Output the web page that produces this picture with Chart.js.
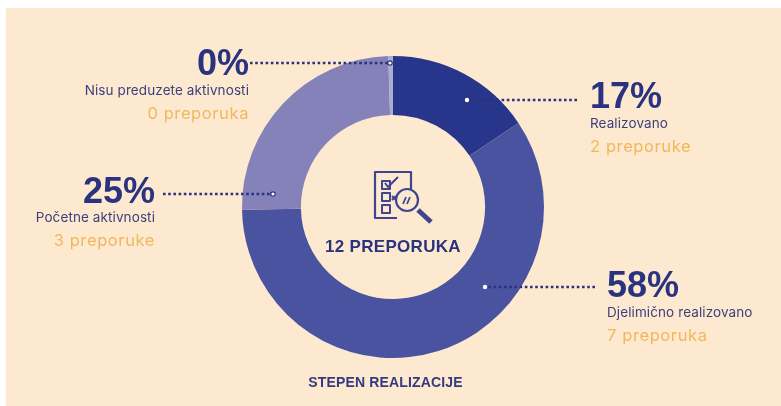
<!DOCTYPE html>
<html><head><meta charset="utf-8">
<style>
html,body{margin:0;padding:0;background:#fff;width:781px;height:406px;overflow:hidden}
#bg{position:absolute;left:6px;top:8px;width:775px;height:398px;background:#fde9cf}
#wrap{position:absolute;left:0;top:0;width:781px;height:406px;filter:blur(0.45px)}
</style>
<script src="https://cdn.jsdelivr.net/npm/chart.js@4"></script>
</head><body>
<div id="bg"></div>
<div id="wrap"><canvas id="c" width="781" height="406"></canvas></div>
<script>
const categories = ["Realizovano","Djelimično realizovano","Početne aktivnosti","Nisu preduzete aktivnosti"];
const sliceValues = [15.6,59.1,24.8,0.5];
const percentLabels = ["17%","58%","25%","0%"];
const countLabels = ["2 preporuke","7 preporuka","3 preporuke","0 preporuka"];
const colors = ["#27358a","#4a539f","#8482b9","#a9acd3"];
const centerLabel = "12 PREPORUKA";
const footerLabel = "STEPEN REALIZACIJE";
const FONT = '"Liberation Sans", Arial, sans-serif';
const BODY = 'Inter, "Liberation Sans", sans-serif';
const NAVY = "#2a3380", ORANGE = "#f1b75c";

const annotations = [
 {dot:[467,100], end:[577,100], x:590, align:"left",  pctY:98,  catY:124, cntY:147},
 {dot:[485,287], end:[595,287], x:607, align:"left",  pctY:287, catY:313, cntY:336},
 {dot:[273,194], end:[163,194], x:155, align:"right", pctY:193, catY:218, cntY:241},
 {dot:[390,63],  end:[250,63],  x:249, align:"right", pctY:65,  catY:91,  cntY:114}
];

const overlay = {
 id:"overlay",
 afterDatasetsDraw(chart){
  const ctx = chart.ctx, m = chart.getDatasetMeta(0).data[0];
  const cx = m.x, cy = m.y;
  ctx.save();
  annotations.forEach((a,i)=>{
   ctx.strokeStyle = NAVY;
   ctx.lineWidth = 2.6;
   ctx.setLineDash([2.6,2.6]);
   ctx.beginPath(); ctx.moveTo(a.end[0],a.end[1]); ctx.lineTo(a.dot[0],a.dot[1]); ctx.stroke();
   ctx.setLineDash([]);
   ctx.fillStyle="#fff";
   ctx.beginPath(); ctx.arc(a.dot[0],a.dot[1],2.2,0,7); ctx.fill();
   if(i>=2){ ctx.lineWidth=1.2; ctx.stroke(); }
   ctx.textAlign=a.align; ctx.textBaseline="middle";
   ctx.letterSpacing="0px";
   ctx.fillStyle=NAVY; ctx.font='bold 36px '+FONT;
   ctx.fillText(percentLabels[i],a.x,a.pctY);
   ctx.letterSpacing="0.1px";
   ctx.fillStyle="#3c3f7e"; ctx.font='13.5px '+BODY;
   ctx.fillText(categories[i],a.x,a.catY);
   ctx.letterSpacing="0.6px";
   ctx.fillStyle=ORANGE; ctx.font='16.5px '+BODY;
   ctx.fillText(countLabels[i],a.x,a.cntY);
  });
  ctx.letterSpacing="0.3px";
  ctx.textAlign="center"; ctx.textBaseline="middle";
  ctx.fillStyle=NAVY; ctx.font='bold 17px '+FONT;
  ctx.fillText(centerLabel,cx,cy+40);
  ctx.letterSpacing="0.15px";
  ctx.fillStyle="#343a80"; ctx.font='bold 14px '+FONT;
  ctx.fillText(footerLabel,385.5,383);
  ctx.letterSpacing="0px";
  // icon: clipboard with magnifier
  const ox=cx-18, oy=cy-35;
  ctx.strokeStyle="#3f4590"; ctx.lineWidth=2.2; ctx.lineJoin="round";
  ctx.beginPath();
  ctx.moveTo(ox+22,oy+46); ctx.lineTo(ox,oy+46); ctx.lineTo(ox,oy); ctx.lineTo(ox+36,oy); ctx.lineTo(ox+36,oy+17);
  ctx.stroke();
  ctx.lineWidth=2;
  [[7,9],[7,21],[7,33]].forEach(p=>ctx.strokeRect(ox+p[0],oy+p[1],8,8));
  ctx.beginPath(); ctx.moveTo(ox+10,oy+11); ctx.lineTo(ox+13,oy+15); ctx.lineTo(ox+23,oy+5); ctx.stroke();
  ctx.beginPath(); ctx.moveTo(ox+17,oy+24); ctx.lineTo(ox+21,oy+28); ctx.moveTo(ox+21,oy+24); ctx.lineTo(ox+17,oy+28); ctx.stroke();
  ctx.lineWidth=2.2;
  ctx.beginPath(); ctx.arc(ox+32,oy+28,11,0,7); ctx.stroke();
  ctx.lineWidth=1.8;
  ctx.beginPath(); ctx.moveTo(ox+28,oy+32); ctx.lineTo(ox+31,oy+25); ctx.moveTo(ox+32,oy+32); ctx.lineTo(ox+35,oy+25); ctx.stroke();
  ctx.lineWidth=5; ctx.beginPath(); ctx.moveTo(ox+43,oy+38); ctx.lineTo(ox+56,oy+50); ctx.stroke();
  ctx.restore();
 }
};

new Chart(document.getElementById("c"),{
 type:"doughnut",
 data:{labels:categories,datasets:[{data:sliceValues,backgroundColor:colors,borderWidth:0}]},
 options:{
  responsive:false,animation:false,cutout:"61%",
  layout:{padding:{left:242,right:237,top:56,bottom:48}},
  plugins:{legend:{display:false},tooltip:{enabled:false}}
 },
 plugins:[overlay]
});
</script>
</body></html>
